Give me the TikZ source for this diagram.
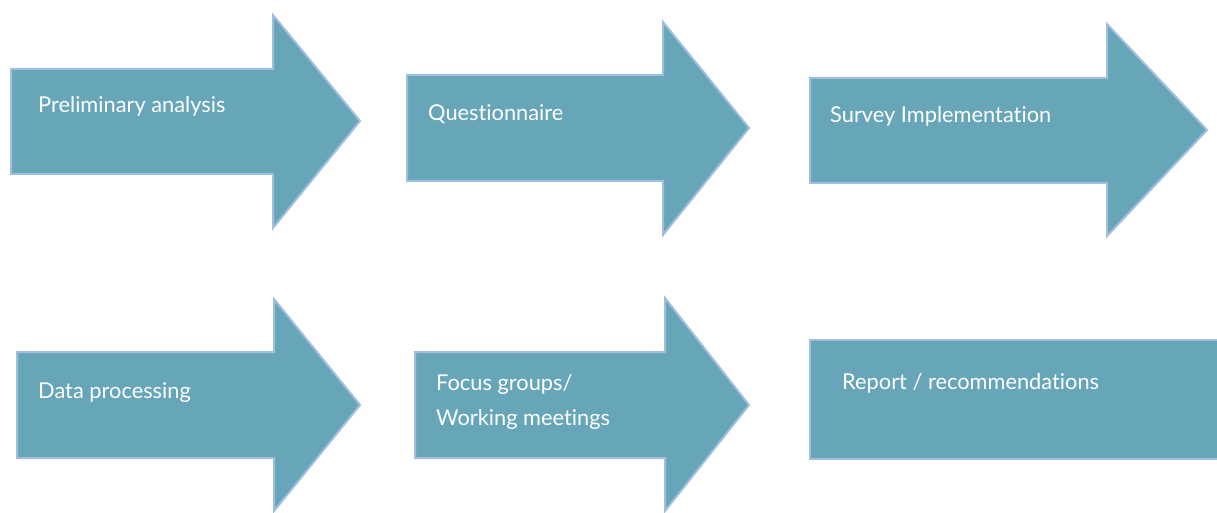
\documentclass[tikz,border=0pt]{standalone}
\usepackage{fontspec}
\setmainfont{Lato}[Ligatures={NoCommon}]
\definecolor{arrowfill}{HTML}{67A6B9}
\definecolor{arrowedge}{HTML}{A2BEDF}
\tikzset{
  flowshape/.style={fill=arrowfill, draw=arrowedge, line width=2pt, line join=miter},
  steplabel/.style={anchor=base west, inner sep=0pt, text=white, font=\fontsize{21.8}{35}\selectfont, align=left},
}
\begin{document}
\begin{tikzpicture}[x=1pt,y=-1pt]
\useasboundingbox (0,0) rectangle (1217,513);
% arrow 1
\draw[flowshape] (11,69) -- (273,69) -- (273,15) -- (360,121) -- (273,228) -- (273,174) -- (11,174) -- cycle;
\node[steplabel] (t1) at (38,113) {Preliminary analysis};
% arrow 2
\draw[flowshape] (407,75) -- (663,75) -- (663,22) -- (749,128) -- (663,235) -- (663,181) -- (407,181) -- cycle;
\node[steplabel] (t2) at (428,121) {Questionnaire};
% arrow 3
\draw[flowshape] (810,78) -- (1107,78) -- (1107,24) -- (1207,130) -- (1107,236) -- (1107,183) -- (810,183) -- cycle;
\node[steplabel] (t3) at (830,123) {Survey Implementation};
% arrow 4
\draw[flowshape] (17,352) -- (274,352) -- (274,299) -- (360,405) -- (274,511) -- (274,458) -- (17,458) -- cycle;
\node[steplabel] (t4) at (38,398) {Data processing};
% arrow 5
\draw[flowshape] (415,352) -- (665,352) -- (665,298) -- (749,405) -- (665,511) -- (665,458) -- (415,458) -- cycle;
\node[steplabel] (t5) at (436,425) {Focus groups/\\Working meetings};
% box 6
\fill[arrowfill] (810,340) rectangle (1217,459);
\draw[arrowedge, line width=2pt] (1218,340) -- (810,340) -- (810,459) -- (1218,459);
\node[steplabel] (t6) at (842,389) {Report / recommendations};
\end{tikzpicture}
\end{document}
